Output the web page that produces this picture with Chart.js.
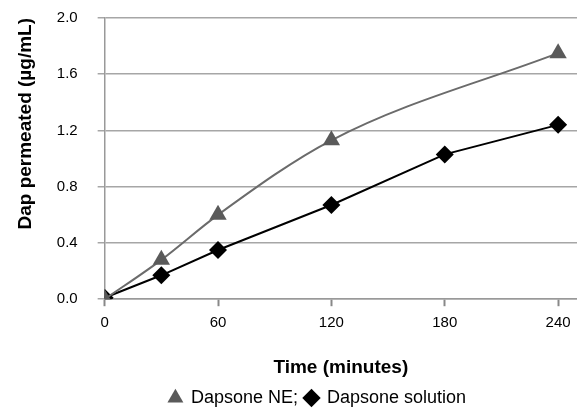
<!DOCTYPE html>
<html lang="en">
<head>
    <meta charset="UTF-8">
    <title>Dap permeated</title>
    <script src="https://cdn.jsdelivr.net/npm/chart.js"></script>
    <style>
        body { margin: 0; background: #fff; }
        #wrap { width: 577px; height: 410px; }
    </style>
</head>
<body>
    <div id="wrap"><canvas id="chart" width="577" height="410"></canvas></div>
    <script>
        // datos
        var neTime = [0, 30, 60, 120, 240];
        var neValues = [0.00, 0.28, 0.60, 1.13, 1.75];
        var solTime = [0, 30, 60, 120, 180, 240];
        var solValues = [0.01, 0.17, 0.35, 0.67, 1.03, 1.24];
        var xTicks = [0, 60, 120, 180, 240];

        function toPoints(xs, ys) {
            return xs.map(function (x, i) { return { x: x, y: ys[i] }; });
        }

        var fam = 'Liberation Sans, Arial, sans-serif';
        var font = { family: fam, size: 15 };

        // mover la leyenda un poco a la derecha, como en la figura original
        var legendShift = {
            id: 'legendShift',
            afterLayout: function (c) {
                c.legend.left += 22;
                c.legend.right += 22;
            }
        };

        var ctx = document.getElementById('chart').getContext('2d');
        var chart = new Chart(ctx, {
            type: 'line',
            data: {
                datasets: [{
                    label: 'Dapsone NE',
                    data: toPoints(neTime, neValues),
                    borderColor: '#6b6b6b',
                    backgroundColor: '#5a5a5a',
                    borderWidth: 2,
                    pointStyle: 'triangle',
                    pointRadius: 10,
                    pointBorderWidth: 0,
                    cubicInterpolationMode: 'monotone',
                    fill: false
                }, {
                    label: 'Dapsone solution',
                    data: toPoints(solTime, solValues),
                    borderColor: '#000',
                    backgroundColor: '#000',
                    borderWidth: 2,
                    pointStyle: 'rectRot',
                    pointRadius: 9,
                    pointBorderWidth: 0,
                    tension: 0,
                    fill: false
                }]
            },
            plugins: [legendShift],
            options: {
                responsive: false,
                animation: false,
                layout: { autoPadding: false, padding: { left: 14, right: 0, top: 18, bottom: -7 } },
                plugins: {
                    tooltip: { enabled: false },
                    legend: {
                        position: 'bottom',
                        labels: {
                            usePointStyle: true,
                            boxWidth: 13,
                            boxHeight: 13,
                            padding: 2,
                            color: '#000',
                            font: { family: fam, size: 18 },
                            generateLabels: function (c) {
                                var items = Chart.defaults.plugins.legend.labels.generateLabels(c);
                                items[0].text = items[0].text + '; ';
                                return items;
                            }
                        }
                    }
                },
                scales: {
                    x: {
                        type: 'linear',
                        min: 0,
                        max: 250,
                        afterBuildTicks: function (axis) {
                            axis.ticks = xTicks.map(function (v) { return { value: v }; });
                        },
                        afterFit: function (axis) { axis.paddingRight = 0; },
                        grid: { drawOnChartArea: false, color: '#888', tickLength: 7, tickWidth: 2 },
                        border: { color: '#999', width: 1.5 },
                        ticks: { color: '#000', font: font, padding: 8 },
                        title: {
                            display: true,
                            text: 'Time (minutes)',
                            color: '#000',
                            font: { family: fam, size: 19, weight: 'bold' },
                            padding: { top: 16, bottom: 8 }
                        }
                    },
                    y: {
                        min: 0,
                        max: 2,
                        afterFit: function (axis) { axis.paddingTop = 0; },
                        ticks: {
                            stepSize: 0.4,
                            color: '#000',
                            font: font,
                            padding: 20,
                            callback: function (v) { return v.toFixed(1); }
                        },
                        grid: { color: '#a6a6a6', lineWidth: 1.5, tickLength: 7 },
                        border: { color: '#999', width: 1.5 },
                        title: {
                            display: true,
                            align: 'end',
                            text: 'Dap permeated (µg/mL)',
                            color: '#000',
                            font: { family: fam, size: 19, weight: 'bold' },
                            padding: { top: 0, bottom: 0 }
                        }
                    }
                }
            }
        });
    </script>
</body>
</html>
